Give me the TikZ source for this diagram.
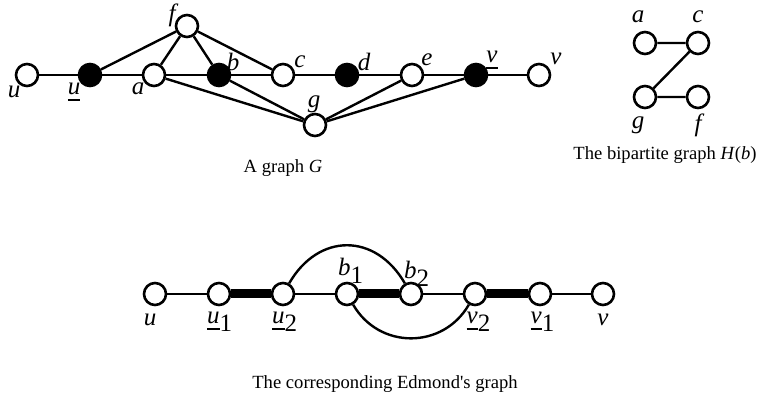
\documentclass[tikz,border=0pt]{standalone}
\usepackage{fontspec}
\setmainfont{Liberation Serif}
\usetikzlibrary{positioning}
\newcommand\ubar[1]{\setbox0\hbox{#1}\rlap{\rule[-3.2pt]{\wd0}{1pt}}\box0}
\begin{document}
\begin{tikzpicture}[x=0.5pt,y=-0.5pt,
  vtx/.style={circle,draw,line width=1.3pt,fill=white,minimum size=11pt,inner sep=0pt},
  mtx/.style={vtx,fill=black},
  lbl/.style={font=\fontsize{12.5}{12.5}\selectfont\itshape,inner sep=0pt},
  caption/.style={font=\fontsize{9.3}{10}\selectfont,inner sep=0pt},
  edge/.style={line width=1.2pt},
  medge/.style={line width=4.5pt}
]
\useasboundingbox (0,0) rectangle (760,399);
% graph G
\node[vtx] (u) at (27,75) {};
\node[mtx] (ub) at (90,75) {};
\node[vtx] (a) at (154,75) {};
\node[mtx] (b) at (219,75) {};
\node[vtx] (c) at (283,75) {};
\node[mtx] (d) at (347,75) {};
\node[vtx] (e) at (412,75) {};
\node[mtx] (vb) at (476,75) {};
\node[vtx] (v) at (539,75) {};
\node[vtx] (f) at (187,26) {};
\node[vtx] (g) at (315,125) {};
\foreach \s/\t in {u/ub,ub/a,a/b,b/c,c/d,d/e,e/vb,vb/v,ub/f,a/f,f/b,f/c,a/g,b/g,g/e,g/vb}
  \draw[edge] (\s)--(\t);
\node[lbl] (lu) at (14,92) {u};
\node[lbl] (lub) at (74,92) {\ubar{u}};
\node[lbl] (la) at (138,89) {a};
\node[lbl] (lf) at (172,15) {f};
\node[lbl] (lb) at (233,62) {b};
\node[lbl] (lc) at (300,62) {c};
\node[lbl] (ld) at (364,62) {d};
\node[lbl] (lg) at (314,104) {g};
\node[lbl] (le) at (427,60) {e};
\node[lbl] (lvb) at (492,60) {\ubar{v}};
\node[lbl] (lv) at (556,59) {v};
\node[caption] (capG) at (283,168) {A graph \textit{G}};
% bipartite graph H(b)
\node[vtx] (ha) at (645,43) {};
\node[vtx] (hc) at (698,43) {};
\node[vtx] (hg) at (645,97) {};
\node[vtx] (hf) at (698,97) {};
\draw[edge] (ha)--(hc) (hc)--(hg) (hg)--(hf);
\node[lbl] (lha) at (638,17) {a};
\node[lbl] (lhc) at (698,17) {c};
\node[lbl] (lhg) at (638,125) {g};
\node[lbl] (lhf) at (698,125) {f};
\node[caption] (capH) at (665,155) {The bipartite graph \textit{H}(\textit{b})};
% Edmond's graph
\node[vtx] (eu) at (155,294) {};
\node[vtx] (eu1) at (219,294) {};
\node[vtx] (eu2) at (283,294) {};
\node[vtx] (eb1) at (347,294) {};
\node[vtx] (eb2) at (411,294) {};
\node[vtx] (ev2) at (475,294) {};
\node[vtx] (ev1) at (540,294) {};
\node[vtx] (ev) at (603,294) {};
\foreach \s/\t in {eu/eu1,eu2/eb1,eb2/ev2,ev1/ev}
  \draw[edge] (\s)--(\t);
\foreach \s/\t in {eu1/eu2,eb1/eb2,ev2/ev1}
  \draw[medge] (\s)--(\t);
\draw[edge] (eu2) to[out=60,in=120,looseness=1.3] (eb2);
\draw[edge] (eb1) to[out=-60,in=-120,looseness=1.15] (ev2);
\node[lbl] (leu) at (150,320) {u};
\node[lbl] (leu1) at (220,322) {\ubar{u}$_{\textup{1}}$};
\node[lbl] (leu2) at (285,322) {\ubar{u}$_{\textup{2}}$};
\node[lbl] (leb1) at (351,271) {b$_{\textup{1}}$};
\node[lbl] (leb2) at (417,274) {b$_{\textup{2}}$};
\node[lbl] (lev2) at (479,322) {\ubar{v}$_{\textup{2}}$};
\node[lbl] (lev1) at (543,322) {\ubar{v}$_{\textup{1}}$};
\node[lbl] (lev) at (603,320) {v};
\node[caption] (capE) at (385,384) {The corresponding Edmond\textquotesingle s graph};
\end{tikzpicture}
\end{document}
